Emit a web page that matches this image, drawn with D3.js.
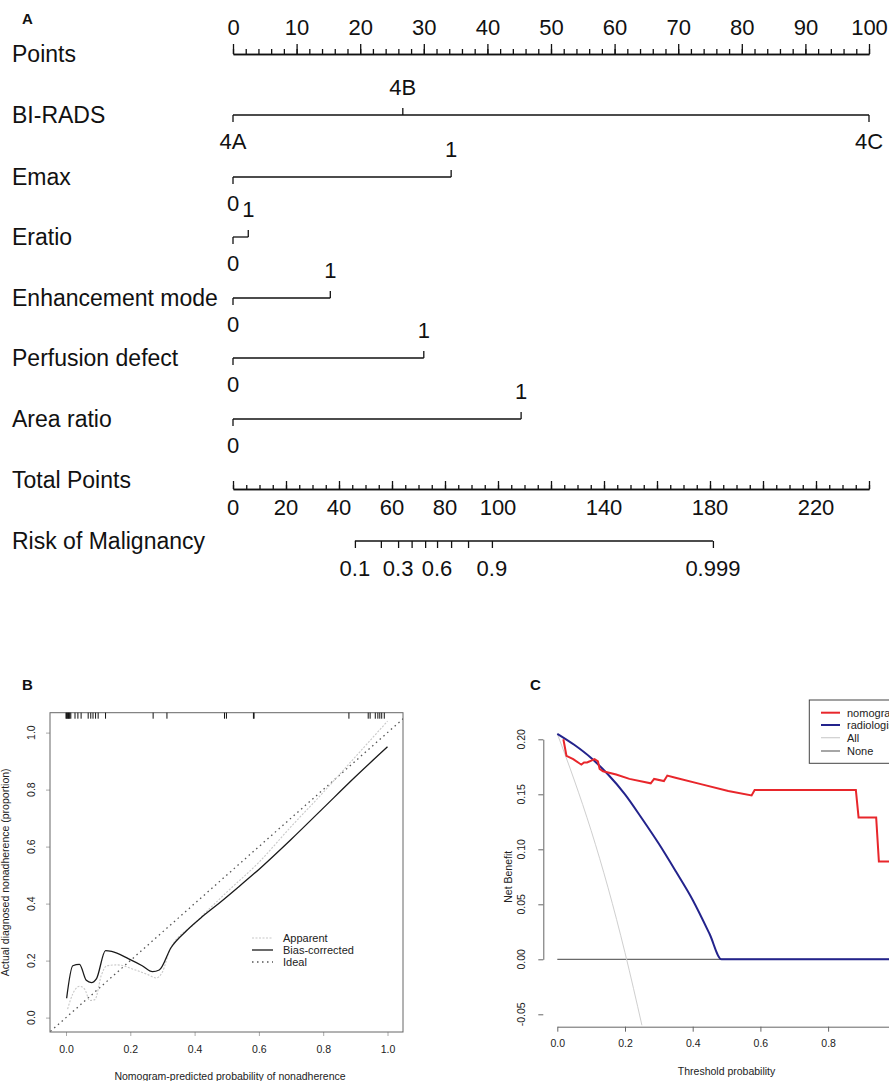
<!DOCTYPE html>
<html>
<head>
<meta charset="utf-8">
<script src="https://cdn.jsdelivr.net/npm/d3@7"></script>
<style>
  body { margin: 0; background: #fff; }
  svg { display: block; font-family: "Liberation Sans", Arial, sans-serif; }
  .nomo text { font-size: 22px; fill: #111; }
  .nomo text.rowlab { font-size: 23px; }
  .nomo path, .nomo line { stroke: #111; stroke-width: 1.3; fill: none; }
  .small text { font-size: 10.5px; fill: #222; }
  .small .domain, .small .tick line { stroke: #666; stroke-width: 1; }
  .panel { font-size: 15px; font-weight: bold; fill: #111; }
</style>
</head>
<body>
<svg id="chart" width="889" height="1081"></svg>
<script>
// ---------- panel A : nomogram ----------
const pointLabels = [0, 10, 20, 30, 40, 50, 60, 70, 80, 90, 100]
const variables = ["BI-RADS", "Emax", "Eratio", "Enhancement mode", "Perfusion defect", "Area ratio"]
const varLevels = [["4A", "4B", "4C"], ["0", "1"], ["0", "1"], ["0", "1"], ["0", "1"], ["0", "1"]]
const varPoints = [[0, 26.7, 100], [0, 34.3], [0, 2.4], [0, 15.3], [0, 30.0], [0, 45.3]]
const totalLabels = [0, 20, 40, 60, 80, 100, 140, 180, 220]
const riskTicks = ["0.1", "0.2", "0.3", "0.4", "0.5", "0.6", "0.7", "0.8", "0.9", "0.999"]
const riskTotals = [46.0, 55.8, 62.3, 67.4, 72.5, 77.0, 82.3, 88.7, 97.7, 181.1]
const riskShown = ["0.1", "0.3", "0.6", "0.9", "0.999"]

// ---------- panel B : calibration ----------
const calTicks = [0, 0.2, 0.4, 0.6, 0.8, 1.0]
const rugProb = [0.0, 0.002, 0.004, 0.006, 0.008, 0.01, 0.012, 0.015, 0.028, 0.037, 0.047,
  0.069, 0.077, 0.084, 0.092, 0.1, 0.123, 0.271, 0.314, 0.493, 0.499, 0.583, 0.585,
  0.88, 0.94, 0.946, 0.962, 0.97, 0.976, 0.982, 0.99]
const biasX = [0.002, 0.021, 0.042, 0.063, 0.079, 0.095, 0.123, 0.142, 0.195, 0.237, 0.269, 0.29,
  0.327, 0.374, 0.427, 0.48, 0.533, 0.6, 0.7, 0.8, 0.9, 1.0]
const biasY = [0.068, 0.182, 0.187, 0.131, 0.123, 0.137, 0.235, 0.232, 0.206, 0.182, 0.161, 0.167,
  0.246, 0.304, 0.357, 0.405, 0.455, 0.52, 0.625, 0.735, 0.845, 0.95]
const appX = [0.005, 0.021, 0.042, 0.058, 0.074, 0.09, 0.11, 0.127, 0.158, 0.216, 0.258, 0.28,
  0.30, 0.322, 0.4, 0.5, 0.6, 0.7, 0.8, 0.9, 1.0]
const appY = [0.03, 0.083, 0.11, 0.10, 0.06, 0.063, 0.149, 0.182, 0.185, 0.167, 0.149, 0.139,
  0.16, 0.235, 0.33, 0.44, 0.545, 0.67, 0.79, 0.915, 1.04]

// ---------- panel C : decision curve ----------
const dcaXTicks = [0, 0.2, 0.4, 0.6, 0.8, 1.0]
const dcaXShown = [0, 0.2, 0.4, 0.6, 0.8]
const dcaYTicks = [-0.05, 0, 0.05, 0.1, 0.15, 0.2]
const nomoX = [0.018, 0.027, 0.047, 0.066, 0.071, 0.079, 0.088, 0.096, 0.11, 0.12, 0.125, 0.135,
  0.174, 0.213, 0.276, 0.286, 0.315, 0.325, 0.349, 0.427, 0.505, 0.574, 0.583, 0.882, 0.89,
  0.942, 0.95, 0.99]
const nomoY = [0.200, 0.185, 0.182, 0.178, 0.177, 0.179, 0.179, 0.180, 0.182, 0.180, 0.173, 0.171,
  0.168, 0.164, 0.160, 0.164, 0.162, 0.167, 0.165, 0.159, 0.153, 0.149, 0.154, 0.154, 0.129,
  0.129, 0.089, 0.089]
const radX = [0, 0.05, 0.1, 0.15, 0.2, 0.25, 0.3, 0.35, 0.4, 0.45, 0.485, 1.0]
const radY = [0.205, 0.195, 0.183, 0.168, 0.150, 0.128, 0.105, 0.080, 0.054, 0.023, 0, 0]
const allX = [0, 0.05, 0.1, 0.15, 0.2, 0.25]
const allY = [0.205, 0.163, 0.117, 0.065, 0.006, -0.06]
const noneX = [0, 1]
const noneY = [0, 0]
const dcaNames = ["nomogram", "radiologist", "All", "None"]
const dcaColors = ["#e8262b", "#23238c", "#cfcfcf", "#6a6a6a"]

const svg = d3.select("#chart")
const zip = (xs, ys) => xs.map((x, i) => [x, ys[i]])

// ================= A =================
svg.append("text").attr("class", "panel").attr("x", 22).attr("y", 24).text("A")

const xPts = d3.scaleLinear().domain([0, 100]).range([233, 869])
const xTot = d3.scaleLinear().domain([0, 240]).range([233, 869])
const rowY = [54, 115, 177, 237, 298, 358, 419, 489, 541]
const nomo = svg.append("g").attr("class", "nomo")

// Points ruler
const gP = nomo.append("g").attr("transform", `translate(0,${rowY[0]})`)
gP.call(d3.axisTop(xPts).tickValues(d3.range(0, 101, 2)).tickSize(5).tickSizeOuter(0).tickFormat(""))
gP.append("g").call(d3.axisTop(xPts).tickValues(pointLabels).tickSize(10).tickSizeOuter(0).tickPadding(9))
nomo.append("text").attr("class", "rowlab").attr("x", 12).attr("y", rowY[0] + 8).text("Points")

// predictor rows
variables.forEach((name, i) => {
  const y = rowY[i + 1]
  const pts = varPoints[i]
  nomo.append("text").attr("class", "rowlab").attr("x", 12).attr("y", y + 8).text(name)
  nomo.append("line")
    .attr("x1", xPts(d3.min(pts))).attr("x2", xPts(d3.max(pts)))
    .attr("y1", y).attr("y2", y)
  pts.forEach((p, j) => {
    const up = j % 2 === 1
    nomo.append("line")
      .attr("x1", xPts(p)).attr("x2", xPts(p))
      .attr("y1", y).attr("y2", up ? y - 7 : y + 7)
    nomo.append("text")
      .attr("x", xPts(p)).attr("y", up ? y - 20 : y + 34)
      .attr("text-anchor", "middle")
      .text(varLevels[i][j])
  })
})

// Total points ruler
const gT = nomo.append("g").attr("transform", `translate(0,${rowY[7]})`)
gT.call(d3.axisTop(xTot).tickValues(d3.range(0, 241, 5)).tickSize(4).tickSizeOuter(0).tickFormat(""))
gT.append("g").call(d3.axisTop(xTot).tickValues(d3.range(0, 241, 20)).tickSize(8).tickSizeOuter(0).tickFormat(""))
gT.selectAll(".tlab").data(totalLabels).join("text")
  .attr("class", "tlab")
  .attr("x", d => xTot(d)).attr("y", 26)
  .attr("text-anchor", "middle")
  .text(d => d)
nomo.append("text").attr("class", "rowlab").attr("x", 12).attr("y", rowY[7] - 1).text("Total Points")

// Risk ruler (only spans the probability range)
const gR = nomo.append("g").attr("transform", `translate(0,${rowY[8]})`)
gR.call(d3.axisBottom(xTot).tickValues(riskTotals).tickSize(7).tickSizeOuter(0).tickFormat(""))
gR.select(".domain").remove()
gR.append("line")
  .attr("x1", xTot(d3.min(riskTotals))).attr("x2", xTot(d3.max(riskTotals)))
  .attr("y1", 0).attr("y2", 0)
gR.selectAll(".rlab").data(riskTicks.filter(d => riskShown.includes(d))).join("text")
  .attr("class", "rlab")
  .attr("x", d => xTot(riskTotals[riskTicks.indexOf(d)])).attr("y", 35)
  .attr("text-anchor", "middle")
  .text(d => d)
nomo.append("text").attr("class", "rowlab").attr("x", 12).attr("y", rowY[8] + 8).text("Risk of Malignancy")

// ================= B =================
svg.append("text").attr("class", "panel").attr("x", 22).attr("y", 690).text("B")

const xB = d3.scaleLinear().domain([0, 1]).range([66, 387.5])
const yB = d3.scaleLinear().domain([0, 1]).range([1017.6, 732.6])
const boxB = { x0: 50, x1: 403, y0: 712.7, y1: 1032 }
const gB = svg.append("g").attr("class", "small")

gB.append("defs").append("clipPath").attr("id", "clipB")
  .append("rect").attr("x", boxB.x0).attr("y", boxB.y0)
  .attr("width", boxB.x1 - boxB.x0).attr("height", boxB.y1 - boxB.y0)

const axBx = gB.append("g").attr("transform", `translate(0,${boxB.y1})`)
  .call(d3.axisBottom(xB).tickValues(calTicks).tickSize(4).tickSizeOuter(0).tickFormat(d3.format(".1f")).tickPadding(10))
axBx.select(".domain").remove()
axBx.selectAll(".tick line").style("stroke", "#aaa")

const axBy = gB.append("g").attr("transform", `translate(${boxB.x0},0)`)
  .call(d3.axisLeft(yB).tickValues(calTicks).tickSize(4).tickSizeOuter(0).tickFormat(""))
axBy.select(".domain").remove()
axBy.selectAll(".tick line").style("stroke", "#aaa")
gB.selectAll(".ylabB").data(calTicks).join("text")
  .attr("class", "ylabB")
  .attr("transform", d => `translate(35,${yB(d)}) rotate(-90)`)
  .attr("text-anchor", "middle")
  .text(d3.format(".1f"))

gB.append("rect").attr("x", boxB.x0).attr("y", boxB.y0)
  .attr("width", boxB.x1 - boxB.x0).attr("height", boxB.y1 - boxB.y0)
  .attr("fill", "none").attr("stroke", "#666")

gB.append("text").attr("x", 230).attr("y", 1080).attr("text-anchor", "middle")
  .text("Nomogram-predicted probability of nonadherence")
gB.append("text").attr("transform", `translate(9,${(boxB.y0 + boxB.y1) / 2}) rotate(-90)`)
  .attr("text-anchor", "middle")
  .text("Actual diagnosed nonadherence (proportion)")

// rug along the top
gB.selectAll(".rug").data(rugProb).join("line")
  .attr("class", "rug")
  .attr("x1", d => xB(d)).attr("x2", d => xB(d))
  .attr("y1", boxB.y0).attr("y2", boxB.y0 + 6)
  .attr("stroke", "#111")

const lineB = d3.line().x(d => xB(d[0])).y(d => yB(d[1])).curve(d3.curveMonotoneX)
const plotB = gB.append("g").attr("clip-path", "url(#clipB)")
plotB.append("path").datum([[-0.06, -0.06], [1.1, 1.1]])
  .attr("d", d3.line().x(d => xB(d[0])).y(d => yB(d[1])))
  .attr("fill", "none").attr("stroke", "#555").attr("stroke-width", 1.3).attr("stroke-dasharray", "1.5,3.5")
plotB.append("path").datum(zip(appX, appY)).attr("d", lineB)
  .attr("fill", "none").attr("stroke", "#c8c8c8").attr("stroke-width", 1.1).attr("stroke-dasharray", "2,1.5")
plotB.append("path").datum(zip(biasX, biasY)).attr("d", lineB)
  .attr("fill", "none").attr("stroke", "#1a1a1a").attr("stroke-width", 1.3)

const legB = [
  { name: "Apparent", stroke: "#c8c8c8", dash: "2,1.5", w: 1.1 },
  { name: "Bias-corrected", stroke: "#1a1a1a", dash: null, w: 1.3 },
  { name: "Ideal", stroke: "#555", dash: "1.5,3.5", w: 1.3 }
]
legB.forEach((d, i) => {
  const y = 938 + i * 12
  gB.append("line").attr("x1", 252).attr("x2", 273).attr("y1", y).attr("y2", y)
    .attr("stroke", d.stroke).attr("stroke-width", d.w).attr("stroke-dasharray", d.dash)
  gB.append("text").attr("x", 283).attr("y", y + 4).style("font-size", "11px").text(d.name)
})

// ================= C =================
svg.append("text").attr("class", "panel").attr("x", 530).attr("y", 690).text("C")

const xC = d3.scaleLinear().domain([0, 1]).range([557.3, 895.8])
const yC = d3.scaleLinear().domain([0, 0.2]).range([959.3, 739.3])
const gC = svg.append("g").attr("class", "small")

gC.append("g").attr("transform", "translate(0,1026.7)")
  .call(d3.axisBottom(xC).tickValues(dcaXTicks).tickSize(5).tickSizeOuter(0)
    .tickFormat(d => dcaXShown.includes(d) ? d3.format(".1f")(d) : "").tickPadding(8))

gC.append("g").attr("transform", "translate(543.3,0)")
  .call(d3.axisLeft(yC).tickValues(dcaYTicks).tickSize(5).tickSizeOuter(0).tickFormat(""))
gC.selectAll(".ylabC").data(dcaYTicks).join("text")
  .attr("class", "ylabC")
  .attr("transform", d => `translate(525,${yC(d)}) rotate(-90)`)
  .attr("text-anchor", "middle")
  .text(d => d3.format(".2f")(d).replace("−", "-"))

gC.append("text").attr("x", xC(0.5)).attr("y", 1075).attr("text-anchor", "middle").text("Threshold probability")
gC.append("text").attr("transform", `translate(512,${yC(0.075)}) rotate(-90)`)
  .attr("text-anchor", "middle").text("Net Benefit")

const lineLin = d3.line().x(d => xC(d[0])).y(d => yC(d[1]))
const lineSmooth = d3.line().x(d => xC(d[0])).y(d => yC(d[1])).curve(d3.curveMonotoneX)
const series = [zip(nomoX, nomoY), zip(radX, radY), zip(allX, allY), zip(noneX, noneY)]
const widths = [2, 2, 1, 1.3]
const smooth = [false, true, true, false]
// None and All first, then radiologist, nomogram on top
;[3, 2, 1, 0].forEach(i => {
  gC.append("path").datum(series[i])
    .attr("d", smooth[i] ? lineSmooth : lineLin)
    .attr("fill", "none").attr("stroke", dcaColors[i]).attr("stroke-width", widths[i])
})

// legend
gC.append("rect").attr("x", 809.3).attr("y", 700).attr("width", 120).attr("height", 63.3)
  .attr("fill", "#fff").attr("stroke", "#444").attr("stroke-width", 1)
dcaNames.forEach((n, i) => {
  const y = [712.7, 725, 737.7, 751][i]
  gC.append("line").attr("x1", 821).attr("x2", 840).attr("y1", y).attr("y2", y)
    .attr("stroke", dcaColors[i]).attr("stroke-width", i < 2 ? 2 : 1.2)
  gC.append("text").attr("x", 847).attr("y", y + 4).style("font-size", "11px").text(n)
})
</script>
</body>
</html>
